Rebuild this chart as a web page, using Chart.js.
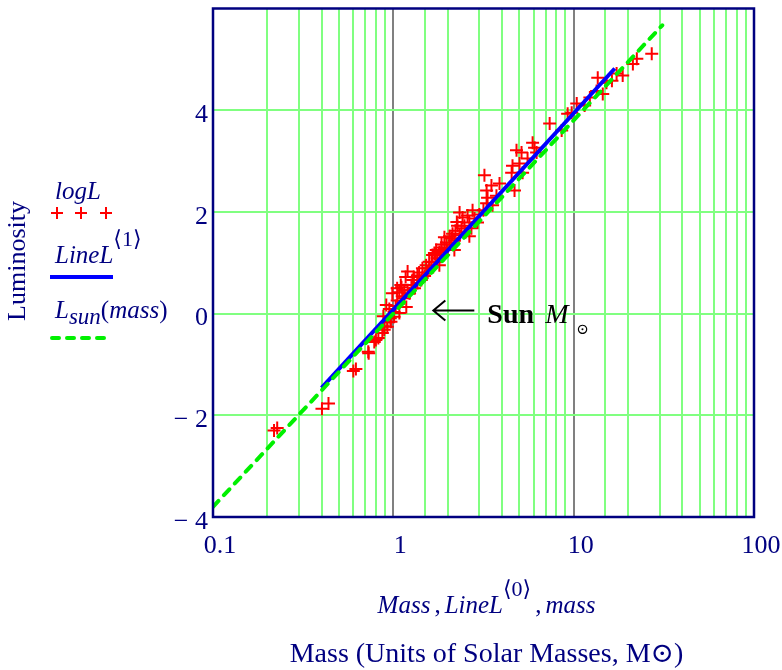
<!DOCTYPE html>
<html>
<head>
<meta charset="utf-8">
<script src="https://cdn.jsdelivr.net/npm/chart.js@4"></script>
<style>
  html, body { margin: 0; padding: 0; background: #fff; }
</style>
</head>
<body>
<canvas id="chart" width="782" height="670"></canvas>
<script>
// star data (mass in solar masses, log luminosity)
const massData = [
  0.218, 0.227, 0.402, 0.437, 0.60, 0.62, 0.726, 0.73, 0.784, 0.80, 0.826, 0.869, 0.89, 0.891,
  0.926, 0.926, 0.962, 0.97, 0.914, 0.95, 0.987, 1.01, 1.01, 1.03, 1.05, 1.05, 1.08, 1.08, 1.10,
  1.11, 1.15, 1.15, 1.17, 1.18, 1.20, 0.88,
  1.23, 1.28, 1.31, 1.36, 1.39, 1.43, 1.49, 1.52, 1.55, 1.585, 1.63, 1.69, 1.71, 1.75, 1.80, 1.85,
  1.90, 1.92, 1.97, 2.00, 2.05, 2.10, 2.13, 2.18, 2.21, 2.27, 2.33, 2.33, 2.39, 2.42, 2.48, 2.51,
  2.58, 2.64, 2.71, 2.75, 2.82, 2.93, 3.00, 3.29, 3.16, 1.80, 2.18, 2.64, 1.92, 2.05, 1.85,
  1.73, 1.65, 1.45, 1.36, 1.26, 1.20, 1.12, 1.30, 1.58, 1.70, 2.25,
  3.20, 3.29, 3.50, 3.88, 3.33, 3.55, 3.73, 4.58, 4.53, 5.01, 4.70, 5.14, 5.55, 5.21, 6.07, 6.23,
  4.82, 5.92,
  7.36, 8.58, 9.26, 9.75, 10.4, 11.5, 12.3, 13.4, 14.5, 13.6, 15.2, 16.3, 17.3, 18.7, 21.3, 22.4, 27.1
];
const logL = [
  -2.30, -2.25, -1.87, -1.77, -1.13, -1.09, -0.75, -0.78, -0.56, -0.52, -0.48, -0.38, -0.32, -0.25,
  -0.17, -0.26, -0.09, -0.16, 0.17, 0.09, 0.40, 0.03, -0.06, 0.15, 0.26, 0.50, 0.42, 0.01, 0.56,
  0.52, 0.30, 0.46, 0.72, 0.13, 0.83, -0.05,
  0.40, 0.66, 0.50, 0.60, 0.81, 0.66, 0.74, 0.95, 0.81, 0.89, 1.01, 1.19, 1.01, 1.09, 1.21, 1.30,
  1.15, 1.28, 1.40, 1.25, 1.36, 1.48, 1.57, 1.44, 1.63, 1.73, 1.54, 1.99, 1.68, 1.89, 1.73, 1.60,
  1.93, 1.79, 1.68, 2.03, 1.87, 1.79, 1.95, 2.17, 2.03, 0.95, 1.25, 1.52, 1.50, 1.52, 1.36,
  1.25, 1.15, 0.89, 0.75, 0.56, 0.46, 0.34, 0.72, 1.02, 1.18, 1.80,
  2.72, 2.42, 2.52, 2.56, 2.28, 2.13, 2.32, 2.91, 2.77, 2.95, 2.42, 3.17, 3.05, 2.77, 3.26, 3.17,
  3.21, 3.36,
  3.74, 3.60, 3.93, 3.95, 4.13, 4.09, 4.25, 4.38, 4.32, 4.64, 4.54, 4.58, 4.72, 4.68, 4.91, 5.01, 5.11
];

// fitted line LineL (endpoints)
const lineMass = [0.40, 16.9];
const lineL = [-1.46, 4.82];

// L_sun(mass) relation (endpoints)
const sunMass = [0.1, 31];
const sunL = [-3.8, 5.67];

const xTickLabels = [0.1, 1, 10, 100];
const yTickLabels = [-4, -2, 0, 2, 4];

const serif = '"Liberation Serif", "Times New Roman", "DejaVu Serif", serif';
const navy = '#000080';
const gridGreen = '#80FF80';

const toPts = (xs, ys) => xs.map((x, i) => ({ x: x, y: ys[i] }));
const isDecade = v => Math.abs(Math.log10(v) - Math.round(Math.log10(v))) < 1e-6;

// draw a row of text pieces with their own fonts, returns end x
function drawRuns(ctx, x, y, runs) {
  for (const r of runs) {
    ctx.font = r[1];
    ctx.fillText(r[0], x, y + (r[2] || 0));
    x += ctx.measureText(r[0]).width + (r[3] || 0);
  }
  return x;
}
function runsWidth(ctx, runs) {
  let w = 0;
  for (const r of runs) { ctx.font = r[1]; w += ctx.measureText(r[0]).width + (r[3] || 0); }
  return w;
}

const extras = {
  id: 'extras',
  afterDraw(chart) {
    const ctx = chart.ctx;
    const a = chart.chartArea;
    const xs = chart.scales.x, ys = chart.scales.y;
    ctx.save();

    // frame
    ctx.strokeStyle = navy;
    ctx.lineWidth = 2.5;
    ctx.strokeRect(a.left, a.top, a.right - a.left, a.bottom - a.top);

    const it25 = 'italic 25px ' + serif;
    const it22 = 'italic 23px ' + serif;
    const reg25 = '25px ' + serif;
    const reg22 = '22px ' + serif;

    // legend on the left
    ctx.fillStyle = navy;
    ctx.textBaseline = 'alphabetic';
    ctx.textAlign = 'left';
    drawRuns(ctx, 55, 199, [['logL', it25]]);
    ctx.strokeStyle = '#FF0000';
    ctx.lineWidth = 2;
    [57, 81, 106].forEach(cx => {
      ctx.beginPath();
      ctx.moveTo(cx - 6, 213); ctx.lineTo(cx + 6, 213);
      ctx.moveTo(cx, 207); ctx.lineTo(cx, 219);
      ctx.stroke();
    });
    drawRuns(ctx, 55, 263, [['LineL', it25], ['\u27E81\u27E9', reg22, -17]]);
    ctx.strokeStyle = '#0000FF';
    ctx.lineWidth = 4;
    ctx.beginPath(); ctx.moveTo(50, 277); ctx.lineTo(113, 277); ctx.stroke();
    drawRuns(ctx, 55, 318, [['L', it25], ['sun', it22, 6], ['(', reg25], ['mass', it25], [')', reg25]]);
    ctx.strokeStyle = '#00F000';
    ctx.lineCap = 'round';
    ctx.setLineDash([7, 8]);
    ctx.beginPath(); ctx.moveTo(52, 338); ctx.lineTo(108, 338); ctx.stroke();
    ctx.setLineDash([]);
    ctx.lineCap = 'butt';

    // y title
    ctx.save();
    ctx.translate(25, 261);
    ctx.rotate(-Math.PI / 2);
    ctx.textAlign = 'center';
    ctx.font = '26px ' + serif;
    ctx.fillText('Luminosity', 0, 0);
    ctx.restore();

    // x titles
    const cx = (a.left + a.right) / 2 + 3;
    const t1 = [['Mass', it25, 0, 4], [',', reg25, 0, 4], ['LineL', it25, 0, 0], ['\u27E80\u27E9', reg22, -17, 4], [',', reg25, 0, 4], ['mass', it25]];
    drawRuns(ctx, cx - runsWidth(ctx, t1) / 2, 613, t1);
    ctx.textAlign = 'center';
    ctx.font = '28px ' + serif;
    ctx.fillText('Mass (Units of Solar Masses, M\u2299)', cx, 662);

    // Sun annotation
    const sx = xs.getPixelForValue(1), sy = ys.getPixelForValue(0);
    ctx.strokeStyle = '#000';
    ctx.fillStyle = '#000';
    ctx.lineWidth = 2;
    ctx.beginPath();
    ctx.moveTo(sx + 40, sy - 3); ctx.lineTo(sx + 81, sy - 3);
    ctx.moveTo(sx + 52, sy - 13); ctx.lineTo(sx + 40, sy - 3); ctx.lineTo(sx + 52, sy + 7);
    ctx.stroke();
    ctx.textAlign = 'left';
    ctx.font = 'bold 28px ' + serif;
    ctx.fillText('Sun', sx + 94, sy + 9);
    ctx.font = 'italic 28px ' + serif;
    ctx.fillText('M', sx + 152, sy + 9);
    ctx.font = '15px ' + serif;
    ctx.fillText('\u2299', sx + 183, sy + 20);

    ctx.restore();
  }
};

const ctx = document.getElementById('chart').getContext('2d');
const myChart = new Chart(ctx, {
  type: 'scatter',
  data: {
    datasets: [
      {
        label: 'logL',
        data: toPts(massData, logL),
        pointStyle: 'cross',
        pointRadius: 6.5,
        pointBorderWidth: 2,
        borderColor: '#FF0000',
        backgroundColor: '#FF0000',
        showLine: false,
        order: 3
      },
      {
        label: 'LineL',
        data: toPts(lineMass, lineL),
        showLine: true,
        borderColor: '#0000FF',
        borderWidth: 4,
        pointRadius: 0,
        order: 2
      },
      {
        label: 'L_sun(mass)',
        data: toPts(sunMass, sunL),
        showLine: true,
        borderColor: '#00F000',
        borderWidth: 4,
        borderDash: [8, 8],
        borderCapStyle: 'round',
        pointRadius: 0,
        order: 1
      }
    ]
  },
  options: {
    responsive: false,
    animation: false,
    layout: { padding: { left: 0, right: 28, top: 7, bottom: 0 } },
    plugins: { legend: { display: false }, tooltip: { enabled: false } },
    scales: {
      x: {
        type: 'logarithmic',
        min: 0.1,
        max: 100,
        border: { display: false },
        grid: {
          drawTicks: false,
          lineWidth: 2,
          color: c => {
            const v = c.tick.value;
            if (Math.abs(v - 1) < 1e-9 || Math.abs(v - 10) < 1e-9) return '#808080';
            if (v <= 0.1 + 1e-9 || v >= 100 - 1e-9) return 'rgba(0,0,0,0)';
            return gridGreen;
          }
        },
        ticks: {
          autoSkip: false,
          maxRotation: 0,
          padding: 14,
          labelOffset: 7,
          color: navy,
          font: { family: serif, size: 26 },
          callback: v => (isDecade(v) && xTickLabels.some(t => Math.abs(t - v) < 1e-9)) ? String(v) : ''
        },
        afterFit: s => { s.height = 153; s.paddingLeft = 0; s.paddingRight = 0; }
      },
      y: {
        min: -4,
        max: 6,
        border: { display: false },
        grid: {
          drawTicks: false,
          lineWidth: 2,
          color: c => (c.tick.value === -4 || c.tick.value === 6) ? 'rgba(0,0,0,0)' : gridGreen
        },
        ticks: {
          stepSize: 2,
          padding: 5,
          labelOffset: 5,
          color: navy,
          font: { family: serif, size: 26 },
          callback: v => yTickLabels.includes(v) ? (v < 0 ? '\u2212 ' + Math.abs(v) : String(v)) : ''
        },
        afterFit: s => { s.width = 213; s.paddingTop = 0; s.paddingBottom = 0; }
      }
    }
  },
  plugins: [extras]
});
</script>
</body>
</html>
